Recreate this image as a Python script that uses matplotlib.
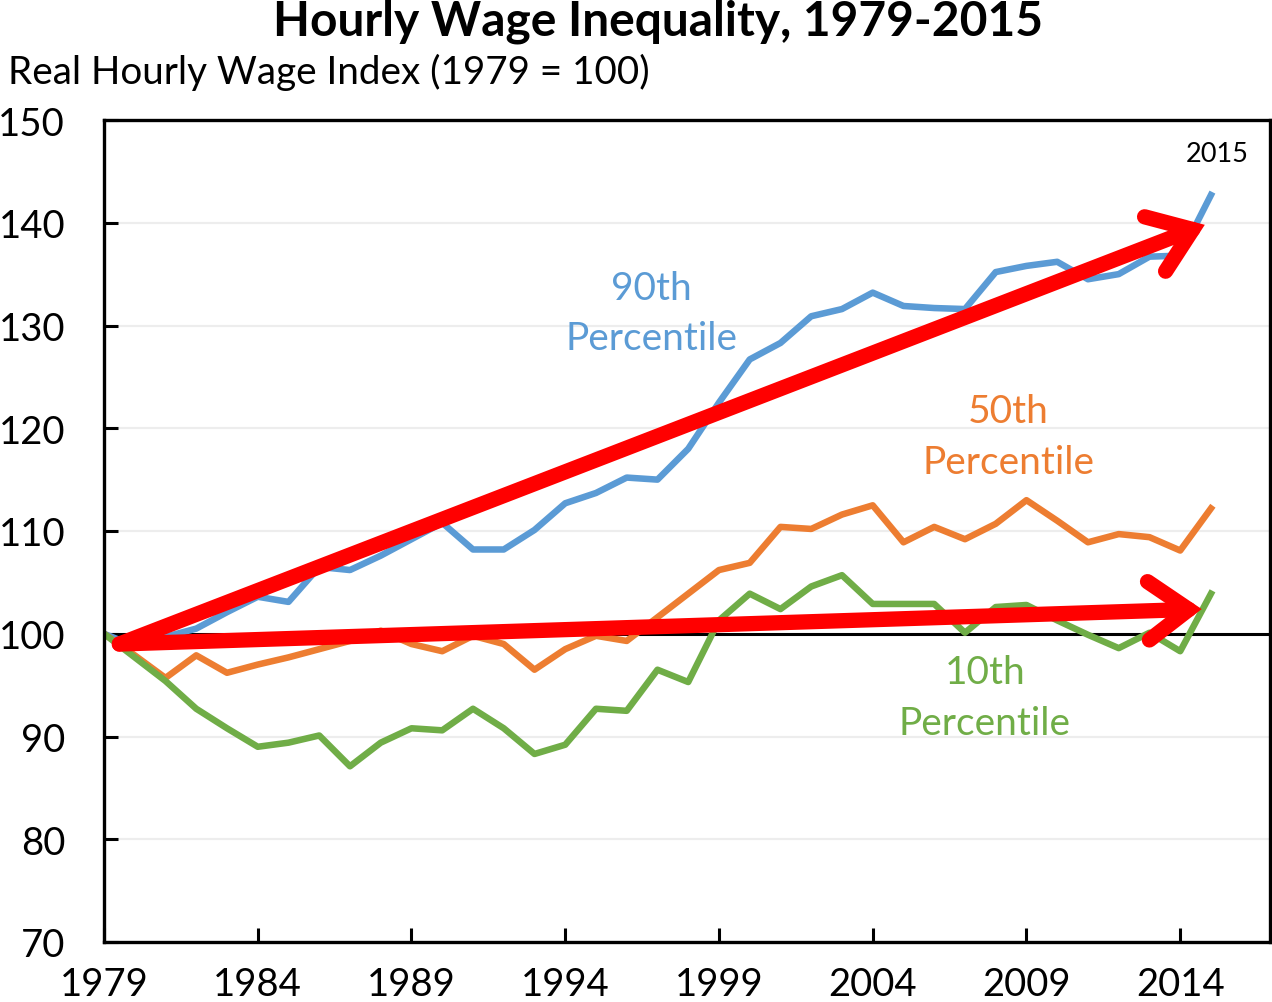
import matplotlib
matplotlib.use("Agg")
import matplotlib.pyplot as plt
from matplotlib.patches import FancyArrowPatch

# ---------------- data ----------------
years = list(range(1979, 2016))
p90 = [100, 98.8, 99.7, 100.5, 102.1, 103.6, 103.1, 106.5, 106.2, 107.6,
       109.2, 110.8, 108.2, 108.2, 110.1, 112.7, 113.7, 115.2, 115.0, 118.0,
       122.5, 126.7, 128.3, 130.9, 131.6, 133.2, 131.9, 131.7, 131.6, 135.2,
       135.8, 136.2, 134.5, 135.0, 136.7, 136.8, 142.7]
p50 = [100, 97.9, 95.7, 97.9, 96.2, 97.0, 97.7, 98.5, 99.3, 100.3,
       99.0, 98.3, 99.8, 99.0, 96.5, 98.5, 99.8, 99.3, 101.6, 103.9,
       106.2, 106.9, 110.4, 110.2, 111.6, 112.5, 108.9, 110.4, 109.2, 110.7,
       113.0, 111.0, 108.9, 109.7, 109.4, 108.1, 112.2]
p10 = [100, 97.7, 95.4, 92.7, 90.8, 89.0, 89.4, 90.1, 87.1, 89.4,
       90.8, 90.6, 92.7, 90.8, 88.3, 89.2, 92.7, 92.5, 96.5, 95.3,
       101.3, 103.9, 102.4, 104.6, 105.7, 102.9, 102.9, 102.9, 100.1, 102.6,
       102.8, 101.3, 99.9, 98.6, 100.1, 98.3, 103.9]
xtick_years = [1979, 1984, 1989, 1994, 1999, 2004, 2009, 2014]
ytick_vals = [70, 80, 90, 100, 110, 120, 130, 140, 150]
series_labels = ["90th\nPercentile", "50th\nPercentile", "10th\nPercentile"]
trend_start = (1979.5, 99.0)
trend90_end = (2014.8, 139.8)
trend10_end = (2014.7, 102.4)

title = "Hourly Wage Inequality, 1979-2015"
subtitle = "Real Hourly Wage Index (1979 = 100)"

BLUE = "#5B9BD5"
ORANGE = "#ED7D31"
GREEN = "#70AD47"

plt.rcParams['font.family'] = ['Lato', 'DejaVu Sans']

fig = plt.figure(figsize=(12.72, 10.03), dpi=100)
ax = fig.add_axes([104/1272, 1 - 943/1003, (1270-104)/1272, (943-121)/1003])

ax.set_xlim(1979, 2016.92)
ax.set_ylim(70, 150)

for v in ytick_vals:
    if v not in (70, 100, 150):
        ax.axhline(v, color="#EDEDED", lw=1.6, zorder=0.5)
ax.axhline(100, color="black", lw=2.2, zorder=1.5)

ax.plot(years, p90, color=BLUE, lw=4.7, zorder=2, solid_joinstyle='round')
ax.plot(years, p50, color=ORANGE, lw=4.7, zorder=2.1, solid_joinstyle='round')
ax.plot(years, p10, color=GREEN, lw=4.7, zorder=2.2, solid_joinstyle='round')

for end in (trend90_end, trend10_end):
    arr = FancyArrowPatch(trend_start, end,
                          arrowstyle="->,head_length=29,head_width=21",
                          mutation_scale=1, lw=11, color="#FF0000",
                          capstyle='round', joinstyle='miter',
                          shrinkA=0, shrinkB=0, zorder=5)
    ax.add_patch(arr)

lab_kw = dict(fontsize=28, ha='center', va='center', linespacing=1.5)
ax.text(1996.8, 131.2, series_labels[0], color=BLUE, **lab_kw)
ax.text(2008.4, 119.2, series_labels[1], color=ORANGE, **lab_kw)
ax.text(2007.65, 93.8, series_labels[2], color=GREEN, **lab_kw)
ax.text(2015.2, 146.7, "2015", color="black", fontsize=19.5,
        ha='center', va='center')

ax.set_xticks(xtick_years)
ax.set_xticklabels([str(y) for y in xtick_years])
ax.set_yticks(ytick_vals)
ax.set_yticklabels([str(v) for v in ytick_vals])
ax.tick_params(axis='both', direction='in', length=10, width=2.2,
               labelsize=27.5, colors='black')
ax.tick_params(axis='y', pad=28, right=False)
ax.tick_params(axis='x', pad=17, top=False)
for lab in ax.get_yticklabels():
    lab.set_horizontalalignment('right')

for s in ax.spines.values():
    s.set_linewidth(2.4)
    s.set_color('black')

fig.text(658/1272, 1 - 22/1003, title, fontsize=34.5, fontweight='bold',
         ha='center', va='center')
fig.text(8/1272, 1 - 72/1003, subtitle, fontsize=27.8,
         ha='left', va='center')

fig.savefig("out.png", dpi=100)
